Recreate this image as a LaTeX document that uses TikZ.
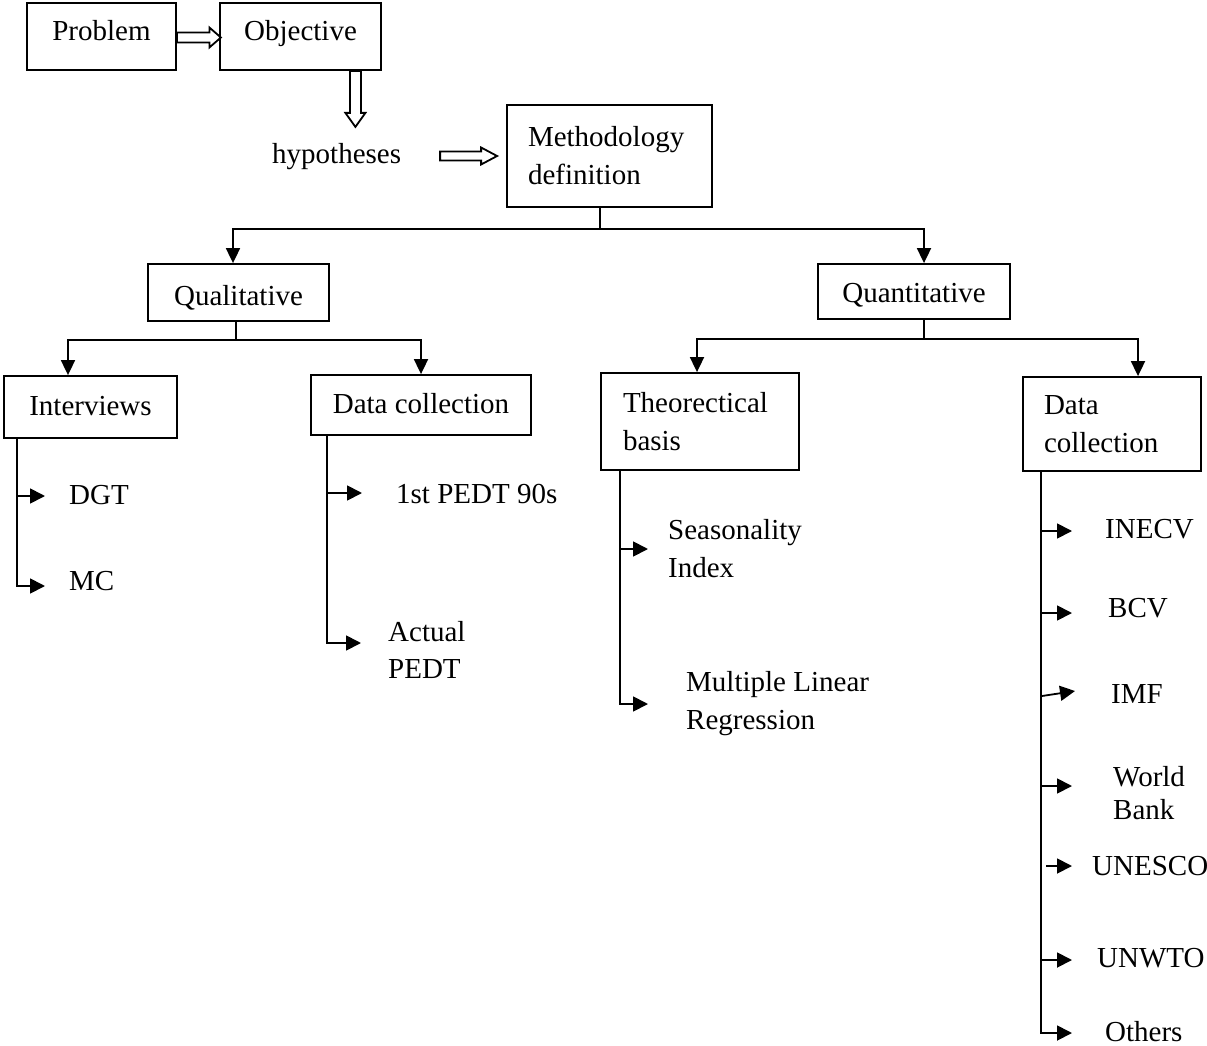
\documentclass[tikz,border=0pt]{standalone}
\usepackage{fontspec}
\setmainfont{Liberation Serif}
\usetikzlibrary{arrows.meta}
\begin{document}
\begin{tikzpicture}[x=1pt,y=-1pt, font=\fontsize{29}{38}\selectfont,
  box/.style={draw, line width=1.8pt, inner sep=0pt, text height=22pt, text depth=6pt},
  boxtwo/.style={draw, line width=1.8pt, inner ysep=0pt, align=left},
  conn/.style={line width=1.8pt},
  tarr/.style={conn, -{Triangle[length=15pt,width=14pt]}},
  barr/.style={conn, -{Triangle[length=15pt,width=15pt]}},
  lbl/.style={anchor=base west, inner sep=0pt},
  hollow/.style={draw, line width=1.8pt, fill=white, line join=miter}]
\useasboundingbox (0,0) rectangle (1207,1046);

% boxes
\node[box, minimum width=149pt, minimum height=67pt, text height=19pt, text depth=10pt] (prob) at (101.5,36.5) {Problem};
\node[box, minimum width=161pt, minimum height=67pt, text height=19pt, text depth=10pt] (obj) at (300.5,36.5) {Objective};
\node[lbl] (hyp) at (272,163) {hypotheses};
\node[boxtwo, minimum width=205pt, minimum height=102pt, text width=163pt, inner xsep=21pt] (meth) at (609.5,156) {Methodology\\definition};
\node[box, minimum width=181pt, minimum height=57pt, text height=25pt, text depth=0pt] (qual) at (238.5,292.5) {Qualitative};
\node[box, minimum width=192pt, minimum height=55pt, text height=24pt, text depth=3pt] (quan) at (914,291.5) {Quantitative};
\node[box, minimum width=173pt, minimum height=62pt] (iv) at (90.5,407) {Interviews};
\node[box, minimum width=220pt, minimum height=60pt] (dcl) at (421,405) {Data collection};
\node[boxtwo, minimum width=198pt, minimum height=97pt, text width=154pt, inner xsep=22pt] (theo) at (700,421.5) {Theorectical\\basis};
\node[boxtwo, minimum width=178pt, minimum height=94pt, text width=136pt, inner xsep=21pt] (dcr) at (1112,424) {Data\\collection};

% labels
\node[lbl] (dgt) at (69,504) {DGT};
\node[lbl] (mc) at (69,590) {MC};
\node[lbl] (pedta) at (396,503) {1st PEDT 90s};
\node[lbl, font=\fontsize{29}{37}\selectfont] (pedtb) at (388,641) {\begin{tabular}[t]{@{}l@{}}Actual\\PEDT\end{tabular}};
\node[lbl] (seas) at (668,539) {\begin{tabular}[t]{@{}l@{}}Seasonality\\Index\end{tabular}};
\node[lbl] (mlr) at (686,691) {\begin{tabular}[t]{@{}l@{}}Multiple Linear\\Regression\end{tabular}};
\node[lbl] (inecv) at (1105,538) {INECV};
\node[lbl] (bcv) at (1108,617) {BCV};
\node[lbl] (imf) at (1111,703) {IMF};
\node[lbl, font=\fontsize{29}{33}\selectfont] (wb) at (1113,786) {\begin{tabular}[t]{@{}l@{}}World\\Bank\end{tabular}};
\node[lbl] (unesco) at (1092,875) {UNESCO};
\node[lbl] (unwto) at (1097,967) {UNWTO};
\node[lbl] (oth) at (1105,1041) {Others};

% hollow arrows
\path[hollow] (prob.east) ++(0,-4) -- ++(32.5,0) -- ++(0,-5) -- ++(11.5,10) -- ++(-11.5,10) -- ++(0,-5) -- ++(-32.5,0) -- cycle;
\path[hollow] (obj.south east) ++(-32,0) -- ++(0,42) -- ++(-4.5,0) -- ++(10,14) -- ++(10,-14) -- ++(-4.5,0) -- ++(0,-42) -- cycle;
\path[hollow] (meth.west) ++(-9,0) -- ++(-16,-8.5) -- ++(0,4) -- ++(-41,0) -- ++(0,9) -- ++(41,0) -- ++(0,4) -- cycle;

% tree connectors
\coordinate (j1) at (600,229);
\coordinate (qa) at (233,229);
\coordinate (na) at (924,229);
\draw[conn] (meth.south -| j1) -- (j1);
\draw[tarr] (j1) -| (qual.north -| qa);
\draw[tarr] (j1) -| (quan.north -| na);

\coordinate (j2) at (236,340);
\coordinate (ia) at (68,340);
\coordinate (da) at (421,340);
\draw[conn] (qual.south -| j2) -- (j2);
\draw[tarr] (j2) -| (iv.north -| ia);
\draw[tarr] (j2) -| (dcl.north -| da);

\coordinate (j3) at (924,339);
\coordinate (ta) at (697,339);
\coordinate (ra) at (1138,339);
\draw[conn] (quan.south -| j3) -- (j3);
\draw[tarr] (j3) -| (theo.north -| ta);
\draw[tarr] (j3) -| (dcr.north -| ra);

% branch lists
\coordinate (s1) at ([xshift=14pt]iv.south west);
\coordinate (dgtT) at (45,496);
\coordinate (mcT) at (45,586);
\draw[barr] (s1) |- (mcT);
\draw[barr] (s1 |- dgtT) -- (dgtT);

\coordinate (s2) at ([xshift=17pt]dcl.south west);
\coordinate (paT) at (362,493);
\coordinate (pbT) at (361,643);
\draw[barr] (s2) |- (pbT);
\draw[barr] (s2 |- paT) -- (paT);

\coordinate (s3) at ([xshift=20pt]theo.south west);
\coordinate (seT) at (648,549);
\coordinate (mlT) at (648,704);
\draw[barr] (s3) |- (mlT);
\draw[barr] (s3 |- seT) -- (seT);

\coordinate (s4) at ([xshift=19pt]dcr.south west);
\coordinate (inT) at (1072,531);
\coordinate (bcT) at (1072,613);
\coordinate (imS) at (1042,696);
\coordinate (imT) at (1075,691);
\coordinate (wbT) at (1072,786);
\coordinate (unS) at (1046,866);
\coordinate (unT) at (1072,866);
\coordinate (uwT) at (1072,960);
\coordinate (otT) at (1072,1033);
\draw[barr] (s4) |- (otT);
\draw[barr] (s4 |- inT) -- (inT);
\draw[barr] (s4 |- bcT) -- (bcT);
\draw[barr] (imS) -- (imT);
\draw[barr] (s4 |- wbT) -- (wbT);
\draw[barr] (unS) -- (unT);
\draw[barr] (s4 |- uwT) -- (uwT);
\end{tikzpicture}
\end{document}
